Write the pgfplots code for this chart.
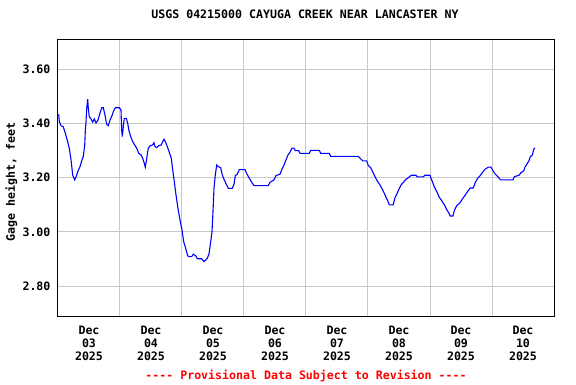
\documentclass[border=0pt]{standalone}
\usepackage{pgfplots}
\pgfplotsset{compat=1.18}
\usepackage{fontspec}
\newfontfamily\usgs{DejaVu Sans Mono}[Ligatures=TeXOff]
\newcommand\uf{\usgs\bfseries\fontsize{11.6}{13}\selectfont}
\definecolor{gridgray}{RGB}{200,200,200}
\begin{document}
\begin{tikzpicture}
\path[use as bounding box] (0,0) rectangle (576pt,384pt);
\begin{axis}[
  at={(58pt,68pt)}, anchor=south west, scale only axis,
  width=496pt, height=276.7pt,
  xmin=0, xmax=8, ymin=2.69, ymax=3.7106,
  xtick={0.5,1.5,2.5,3.5,4.5,5.5,6.5,7.5},
  xticklabels={{Dec\\03\\2025},{Dec\\04\\2025},{Dec\\05\\2025},{Dec\\06\\2025},{Dec\\07\\2025},{Dec\\08\\2025},{Dec\\09\\2025},{Dec\\10\\2025}},
  minor xtick={1,2,3,4,5,6,7},
  xminorgrids=true, xmajorgrids=false,
  ytick={2.8,3.0,3.2,3.4,3.6}, ymajorgrids=true,
  grid style={draw=gridgray, line width=1pt},
  minor grid style={draw=gridgray, line width=1pt},
  major tick length=0pt, minor tick length=0pt,
  axis line style={line width=1pt},
  /pgf/number format/assume math mode=true,
  tick label style={font=\uf},
  yticklabel style={xshift=-4pt, /pgf/number format/fixed, /pgf/number format/precision=2, /pgf/number format/fixed zerofill},
  xticklabel style={align=center, yshift=-7pt},
  ylabel={Gage height, feet},
  ylabel style={font=\uf, at={(axis description cs:-0.0867,0.484)}, anchor=base, rotate=0},
  title={USGS 04215000 CAYUGA CREEK NEAR LANCASTER NY},
  title style={font=\uf, at={(axis description cs:0.498,1.054)}, anchor=base},
]
\addplot[blue, line width=1.1pt, no marks] coordinates {
(0.011,3.434) (0.021,3.407) (0.048,3.392) (0.085,3.388) (0.118,3.364) (0.156,3.333)
(0.182,3.309) (0.210,3.266) (0.237,3.210) (0.269,3.192) (0.302,3.210) (0.323,3.225)
(0.355,3.241) (0.387,3.266) (0.408,3.278) (0.431,3.321) (0.440,3.370) (0.452,3.407)
(0.463,3.456) (0.479,3.490) (0.489,3.456) (0.505,3.425) (0.527,3.419) (0.560,3.405)
(0.585,3.417) (0.613,3.402) (0.645,3.413) (0.677,3.438) (0.705,3.458) (0.731,3.458)
(0.758,3.431) (0.785,3.397) (0.811,3.392) (0.839,3.413) (0.871,3.429) (0.892,3.444)
(0.924,3.458) (0.989,3.458) (1.016,3.450) (1.027,3.376) (1.037,3.352) (1.053,3.388)
(1.069,3.419) (1.102,3.419) (1.124,3.401) (1.145,3.373) (1.173,3.352) (1.205,3.333)
(1.237,3.321) (1.269,3.309) (1.302,3.290) (1.339,3.284) (1.366,3.272) (1.392,3.253)
(1.408,3.239) (1.431,3.272) (1.456,3.309) (1.489,3.318) (1.527,3.321) (1.548,3.329)
(1.565,3.315) (1.592,3.311) (1.624,3.318) (1.666,3.321) (1.689,3.333) (1.710,3.342)
(1.731,3.333) (1.758,3.318) (1.795,3.294) (1.827,3.272) (1.850,3.229) (1.876,3.186)
(1.903,3.137) (1.935,3.087) (1.968,3.044) (2.000,3.007) (2.027,2.964) (2.053,2.945)
(2.085,2.918) (2.102,2.909) (2.156,2.909) (2.182,2.918) (2.221,2.912) (2.247,2.901)
(2.318,2.901) (2.355,2.891) (2.382,2.897) (2.408,2.903) (2.435,2.918) (2.463,2.964)
(2.484,3.001) (2.500,3.075) (2.516,3.161) (2.537,3.210) (2.560,3.247) (2.585,3.241)
(2.624,3.237) (2.650,3.210) (2.682,3.192) (2.721,3.173) (2.747,3.161) (2.811,3.161)
(2.839,3.176) (2.860,3.208) (2.892,3.213) (2.924,3.230) (3.016,3.230) (3.044,3.215)
(3.081,3.200) (3.124,3.183) (3.161,3.171) (3.392,3.171) (3.419,3.183) (3.484,3.192)
(3.516,3.208) (3.581,3.213) (3.608,3.229) (3.645,3.247) (3.677,3.266) (3.710,3.284)
(3.742,3.294) (3.774,3.309) (3.806,3.309) (3.827,3.300) (3.882,3.300) (3.903,3.290)
(4.053,3.290) (4.076,3.301) (4.215,3.301) (4.237,3.290) (4.376,3.290) (4.398,3.279)
(4.844,3.279) (4.871,3.272) (4.915,3.262) (4.979,3.262) (5.005,3.245) (5.044,3.237)
(5.076,3.222) (5.113,3.204) (5.150,3.188) (5.194,3.173) (5.237,3.155) (5.274,3.137)
(5.311,3.118) (5.344,3.100) (5.408,3.100) (5.431,3.124) (5.463,3.139) (5.495,3.155)
(5.527,3.171) (5.569,3.183) (5.602,3.192) (5.650,3.200) (5.698,3.209) (5.774,3.209)
(5.795,3.203) (5.892,3.203) (5.915,3.209) (6.000,3.209) (6.027,3.192) (6.069,3.167)
(6.108,3.149) (6.150,3.128) (6.189,3.115) (6.231,3.100) (6.274,3.081) (6.306,3.069)
(6.327,3.059) (6.371,3.059) (6.392,3.079) (6.431,3.097) (6.479,3.106) (6.521,3.121)
(6.565,3.135) (6.608,3.150) (6.650,3.162) (6.698,3.162) (6.726,3.180) (6.769,3.198)
(6.806,3.207) (6.844,3.219) (6.887,3.231) (6.940,3.239) (6.984,3.239) (7.016,3.226)
(7.048,3.214) (7.092,3.204) (7.140,3.192) (7.339,3.192) (7.360,3.204) (7.435,3.209)
(7.468,3.219) (7.511,3.225) (7.532,3.239) (7.565,3.251) (7.597,3.263) (7.618,3.278)
(7.650,3.283) (7.673,3.305) (7.694,3.310)
};
\end{axis}
\node[anchor=base, text=red, font=\uf] at (306pt,5pt) {---- Provisional Data Subject to Revision ----};
\end{tikzpicture}
\end{document}
